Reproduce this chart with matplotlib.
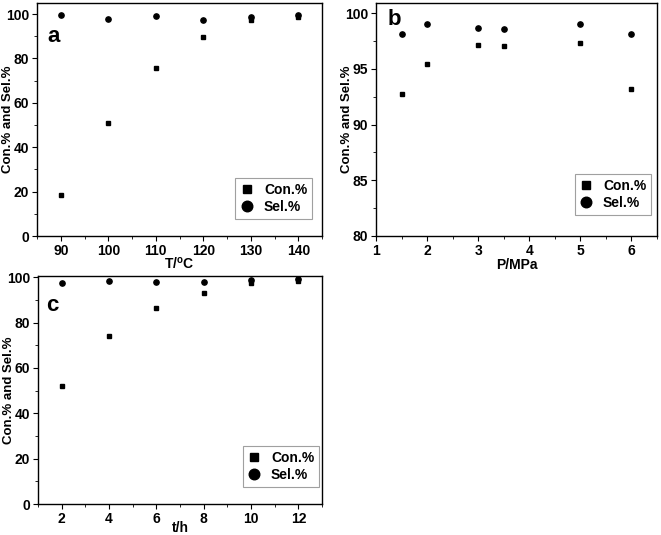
import numpy as np
import matplotlib.pyplot as plt
from matplotlib.ticker import MultipleLocator

plt.rcParams['font.family'] = ['Liberation Sans', 'DejaVu Sans']
plt.rcParams['font.weight'] = 'bold'
plt.rcParams['font.size'] = 10

# panel a: temperature
temp = [90, 100, 110, 120, 130, 140]
con_a = [18.3, 51.0, 75.5, 89.5, 97.5, 98.5]
sel_a = [99.8, 98.0, 99.0, 97.2, 98.8, 99.5]

# panel b: pressure
press = [1.5, 2, 3, 3.5, 5, 6]
con_b = [92.7, 95.4, 97.1, 97.0, 97.3, 93.2]
sel_b = [98.1, 99.0, 98.7, 98.6, 99.0, 98.1]

# panel c: time
hours = [2, 4, 6, 8, 10, 12]
con_c = [52.2, 74.0, 86.5, 93.0, 97.3, 98.2]
sel_c = [97.5, 98.2, 98.0, 97.8, 98.8, 99.2]

W, H = 661, 535
fig = plt.figure(figsize=(W / 100, H / 100), dpi=100)


def box(l, r, t, b):
    return [l / W, 1 - b / H, (r - l) / W, (b - t) / H]


def panel(rect, x, con, sel, xlim, ylim, xmaj, xmin, ymaj, ymin,
          xlabel, xpad, tag, tagpos, legpos):
    ax = fig.add_axes(rect)
    ax.plot(x, con, 's', color='black', ms=3.2, ls='none', label='Con.%')
    ax.plot(x, sel, 'o', color='black', ms=3.8, ls='none', label='Sel.%')
    ax.set_xlim(*xlim)
    ax.set_ylim(*ylim)
    ax.xaxis.set_major_locator(MultipleLocator(xmaj))
    ax.xaxis.set_minor_locator(MultipleLocator(xmin))
    ax.yaxis.set_major_locator(MultipleLocator(ymaj))
    ax.yaxis.set_minor_locator(MultipleLocator(ymin))
    ax.tick_params(which='major', direction='out', length=3.5, width=0.8, pad=2)
    ax.tick_params(which='minor', direction='out', length=2, width=0.6)
    for s in ax.spines.values():
        s.set_linewidth(1.0)
    ax.set_xlabel(xlabel, fontweight='bold', labelpad=xpad)
    ax.set_ylabel('Con.% and Sel.%', fontweight='bold', fontsize=9.5)
    # ylabel sits right next to the two-digit tick labels
    ax.yaxis.set_label_coords(-23.0 / (rect[2] * W), 0.5)
    ax.text(tagpos[0], tagpos[1], tag, transform=ax.transAxes,
            fontsize=16, fontweight='bold', va='center', ha='left')
    leg = ax.legend(loc='lower right', markerscale=2.0, frameon=True, fancybox=False,
                    edgecolor='#888888', handlelength=1.0, handletextpad=0.7,
                    borderpad=0.35, labelspacing=0.25, borderaxespad=0,
                    bbox_to_anchor=legpos)
    leg.get_frame().set_linewidth(0.8)
    return ax


panel(box(37, 322, 3, 236), temp, con_a, sel_a, (85, 145), (0, 105),
      10, 5, 20, 10, 'T/$\\mathregular{^o}$C', -1.5, 'a', (0.035, 0.855), (0.965, 0.073))
panel(box(376, 657, 3, 236), press, con_b, sel_b, (1, 6.5), (80, 100.9),
      1, 0.5, 5, 2.5, 'P/MPa', 0, 'b', (0.04, 0.93), (0.979, 0.09))
panel(box(38, 322, 276, 504), hours, con_c, sel_c, (1, 13), (0, 100.5),
      2, 1, 20, 10, 't/h', -3.5, 'c', (0.03, 0.87), (0.99, 0.075))

fig.savefig('out.png', dpi=100)
